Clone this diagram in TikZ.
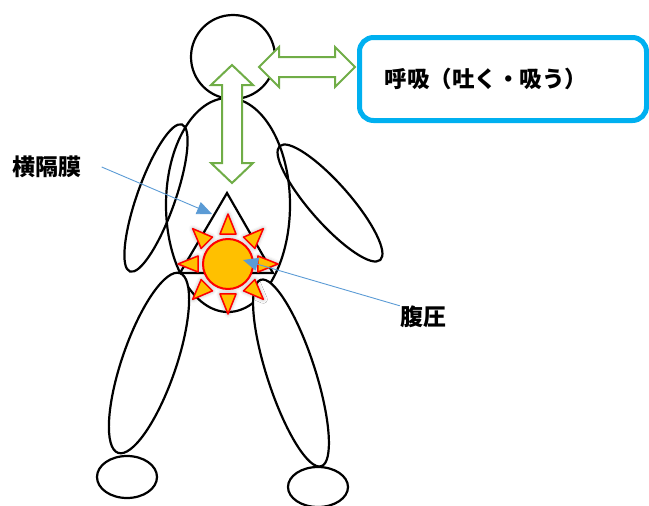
\documentclass[tikz,border=0pt]{standalone}
\usepackage{fontspec}
\newfontfamily\jpfont{Noto Sans CJK JP}[BoldFont={Noto Sans CJK JP Black}]
\usetikzlibrary{arrows.meta,shadows.blur}
\definecolor{breathgreen}{HTML}{70AD47}
\definecolor{boxblue}{HTML}{00B0F0}
\definecolor{pointblue}{HTML}{5B9BD5}
\definecolor{sunfill}{HTML}{FFC000}
\begin{document}
\begin{tikzpicture}[x=1pt,y=-1pt,
    body/.style={draw=black,line width=2.2pt},
    limb/.style={body,fill=white},
    breath/.style={draw=breathgreen,line width=2pt,fill=white,line join=miter},
    ray/.style={draw=red,line width=1.5pt,fill=sunfill,line join=round,
        blur shadow={shadow xshift=0pt,shadow yshift=0pt,shadow blur radius=4pt,shadow opacity=35}},
    pointer/.style={draw=pointblue,line width=0.9pt,-{Triangle[length=15pt,width=13pt]}},
    tag/.style={font=\jpfont\bfseries\fontsize{23}{23}\selectfont,inner sep=0pt},
    respbox/.style={draw=boxblue,line width=5pt,rounded corners=14pt,outer sep=0pt,
        minimum height=83pt,text width=237pt,inner xsep=25pt,align=left,
        font=\jpfont\bfseries\fontsize{22.5}{22.5}\selectfont}]
\useasboundingbox (0,0) rectangle (649,506);
% trunk and belly
\draw[body] (228,205) ellipse (62 and 107);
\draw[body,line join=miter] (227,193) -- (273,273) -- (180,273) -- cycle;
% arms
\draw[body,rotate around={70.5:(156,198)}] (156,198) ellipse (78 and 19);
\draw[body,rotate around={131.4:(330,203)}] (330,203) ellipse (76 and 20);
% legs and feet
\draw[limb,rotate around={71:(149,363)}] (149,363) ellipse (95 and 27);
\draw[limb,rotate around={108:(291,373)}] (291,373) ellipse (98 and 24);
\draw[limb] (127,477) ellipse (30 and 21);
\draw[limb] (318,487) ellipse (30 and 20);
% head
\draw[body] (233,57) circle (42);
% breathing arrows
\draw[breath] (232,65) -- (253,85) -- (242,85) -- (242,163) -- (253,163) -- (232,183)
    -- (211,163) -- (222,163) -- (222,85) -- (211,85) -- cycle;
\draw[breath] (259,67) -- (279,47) -- (279,57) -- (335,57) -- (335,47) -- (355,67)
    -- (335,87) -- (335,77) -- (279,77) -- (279,87) -- cycle;
% sun for the pressure
\coordinate (sun) at (228,264);
\begin{scope}[shift={(sun)}]
  \foreach \a in {0,45,...,315}
    \draw[ray] (\a:50) -- ({\a+15}:31) -- ({\a-15}:31) -- cycle;
  \draw[ray,line width=2pt] (0,0) circle (25);
\end{scope}
% labels
\node[respbox,anchor=north west] (resp) at (359.5,37.5) {呼吸（吐く・吸う）};
\node[tag] (diaphragm) at (47,167) {横隔膜};
\node[tag] (pressure) at (423,317) {腹圧};
\coordinate (diaphragm-tip) at (212,214);
\coordinate (pressure-tip) at (243,260);
\draw[pointer] ([xshift=20]diaphragm.east) -- (diaphragm-tip);
\draw[pointer] (pressure.north west) -- (pressure-tip);
\end{tikzpicture}
\end{document}
